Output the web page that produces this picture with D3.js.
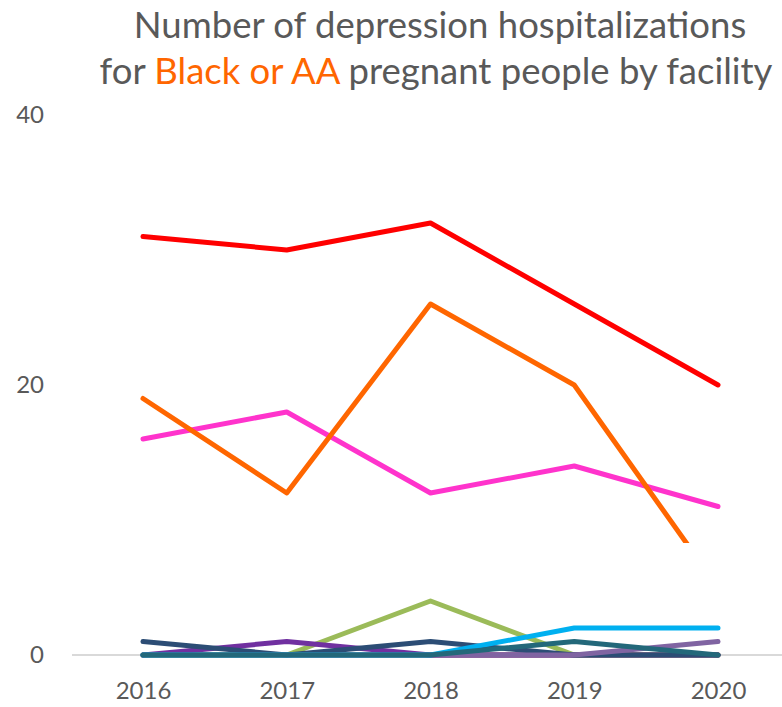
<!DOCTYPE html>
<html>
<head>
<meta charset="utf-8">
<script src="https://cdn.jsdelivr.net/npm/d3@7"></script>
<style>
  body { margin: 0; background: #fff; }
  svg text { font-family: Lato, "Open Sans", sans-serif; fill: #595959; }
</style>
</head>
<body>
<svg id="chart" width="782" height="707"></svg>
<script>
// data
var years = ["2016", "2017", "2018", "2019", "2020"];
var yTicks = [0, 20, 40];

var darkRed  = [0, 0, 0, 0, 0];
var green    = [0, 0, 4, 0, 0];
var navy     = [1, 0, 1, 0, 0];
var purple   = [0, 1, 0, 0, 0];
var lavender = [0, 0, 0, 0, 1];
var cyan     = [0, 0, 0, 2, 2];
var teal     = [0, 0, 0, 1, 0];
var magenta  = [16, 18, 12, 14, 11];
var orange   = [19, 12, 26, 20, 5];
var red      = [31, 30, 32, 26, 20];

// drawn bottom to top
var series = [
	{name: "darkRed", values: darkRed, color: "#843c3c"},
	{name: "green", values: green, color: "#9bbb59"},
	{name: "purple", values: purple, color: "#7030a0"},
	{name: "navy", values: navy, color: "#2c4d75"},
	{name: "lavender", values: lavender, color: "#8064a2"},
	{name: "cyan", values: cyan, color: "#00b0f0"},
	{name: "teal", values: teal, color: "#23687a"},
	{name: "magenta", values: magenta, color: "#ff33cc"},
	{name: "orange", values: orange, color: "#ff6600", clipAbove: 8.3},
	{name: "red", values: red, color: "#ff0000"}
];

var svg = d3.select("#chart");

var x = d3.scalePoint().domain(years).range([143, 718]);
var y = d3.scaleLinear().domain([0, 40]).range([655, 115]);

// title
var title = svg.append("text")
	.attr("text-anchor", "middle")
	.style("font-size", "36.5px");
title.append("tspan").attr("x", 440).attr("y", 38)
	.text("Number of depression hospitalizations");
var l2 = title.append("tspan").attr("x", 436).attr("y", 84);
l2.append("tspan").text("for ");
l2.append("tspan").style("fill", "#ff6600").text("Black or AA");
l2.append("tspan").text(" pregnant people by facility");

// zero line
svg.append("line")
	.attr("x1", 72).attr("x2", 782)
	.attr("y1", y(0)).attr("y2", y(0))
	.attr("stroke", "#d9d9d9")
	.attr("stroke-width", 2);

// y axis labels
var yAxis = svg.append("g")
	.attr("transform", "translate(44,0)")
	.call(d3.axisLeft(y).tickValues(yTicks).tickSize(0).tickPadding(0));
yAxis.select(".domain").remove();
yAxis.selectAll("text")
	.style("font-size", "24px")
	.style("font-family", "Lato, sans-serif")
	.attr("fill", "#595959");

// x axis labels
var xAxis = svg.append("g")
	.attr("transform", "translate(0," + y(0) + ")")
	.call(d3.axisBottom(x).tickSize(0).tickPadding(27));
xAxis.select(".domain").remove();
xAxis.selectAll("text")
	.style("font-size", "24px")
	.style("font-family", "Lato, sans-serif")
	.attr("fill", "#595959");

var line = d3.line()
	.x(function(d, i) { return x(years[i]); })
	.y(function(d) { return y(d); });

series.forEach(function(s) {
	var path = svg.append("path")
		.datum(s.values)
		.attr("d", line)
		.attr("fill", "none")
		.attr("stroke", s.color)
		.attr("stroke-width", 5)
		.attr("stroke-linejoin", "round")
		.attr("stroke-linecap", "round");
	if (s.clipAbove != null) {
		var id = "clip-" + s.name;
		svg.append("clipPath").attr("id", id)
			.append("rect")
			.attr("x", 0).attr("y", 0)
			.attr("width", 782).attr("height", y(s.clipAbove));
		path.attr("clip-path", "url(#" + id + ")");
	}
});
</script>
</body>
</html>
